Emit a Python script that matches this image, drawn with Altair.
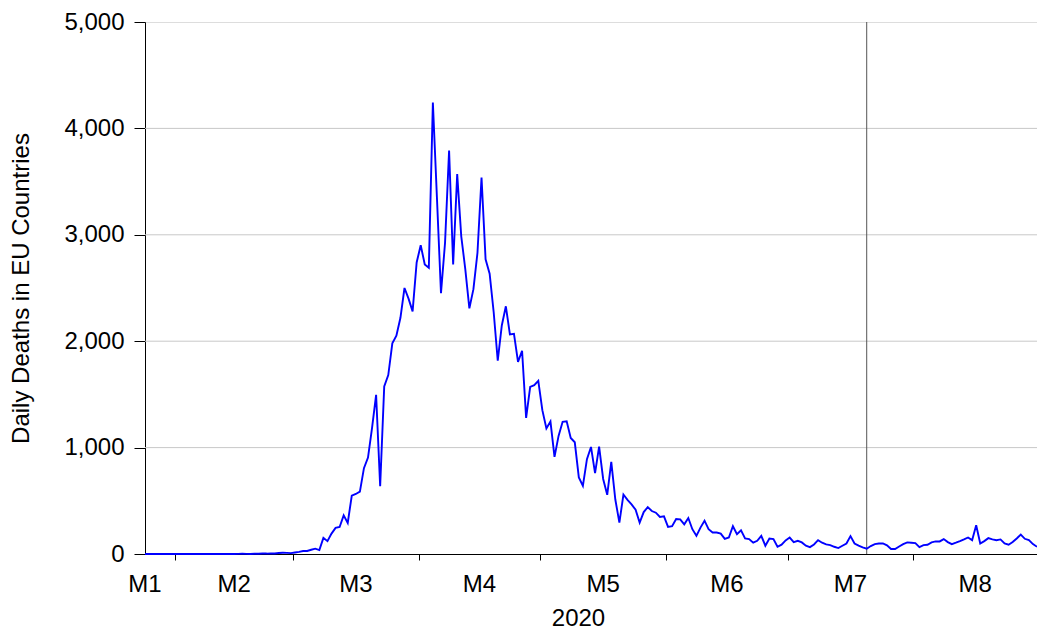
import altair as alt
import pandas as pd

# ---- data ----
start_date = "2020-01-24"
deaths = [
    0, 0, 0, 0, 1, 0, 0, 0, 0, 1,
    0, 0, 1, 0, 0, 0, 1, 0, 0, 1,
    0, 1, 0, 1, 2, 1, 0, 2, 3, 5,
    4, 6, 5, 9, 12, 11, 8, 14, 20, 28,
    28, 40, 50, 37, 152, 121, 192, 245, 254, 363,
    292, 549, 564, 586, 807, 906, 1185, 1496, 636, 1574,
    1682, 1980, 2052, 2220, 2500, 2400, 2280, 2740, 2902, 2722,
    2691, 4243, 3350, 2452, 2924, 3793, 2722, 3570, 2986, 2676,
    2309, 2489, 2831, 3539, 2769, 2635, 2272, 1818, 2148, 2328,
    2064, 2070, 1806, 1910, 1279, 1570, 1586, 1628, 1352, 1180,
    1245, 913, 1110, 1242, 1248, 1090, 1050, 720, 640, 891,
    1006, 760, 1009, 705, 556, 866, 512, 295, 559, 509,
    466, 416, 295, 394, 441, 404, 388, 348, 354, 255,
    261, 329, 326, 279, 338, 233, 171, 248, 313, 233,
    202, 202, 192, 143, 155, 261, 186, 223, 146, 140,
    106, 124, 171, 78, 146, 140, 68, 88, 128, 155,
    112, 124, 109, 78, 65, 90, 130, 106, 90, 84,
    68, 56, 78, 99, 168, 99, 78, 62, 50, 75,
    93, 99, 99, 81, 47, 47, 71, 93, 109, 106,
    102, 65, 84, 87, 109, 118, 118, 140, 112, 93,
    106, 121, 137, 155, 130, 270, 99, 121, 149, 137,
    130, 137, 99, 87, 112, 146, 183, 143, 130, 93, 68,
]
month_starts = ["2020-02-01", "2020-03-01", "2020-04-01", "2020-05-01",
                "2020-06-01", "2020-07-01", "2020-08-01", "2020-09-01"]
month_labels = ["M1", "M2", "M3", "M4", "M5", "M6", "M7", "M8"]
marker_date = "2020-07-20"
y_ticks = [0, 1000, 2000, 3000, 4000, 5000]
grid_values = [1000, 2000, 3000, 4000]
x_title = "2020"
y_title = "Daily Deaths in EU Countries"

# ---- derived tables ----
t0 = pd.Timestamp(start_date)
dates = pd.date_range(start_date, periods=len(deaths), freq="D")
last = len(deaths) - 1
df = pd.DataFrame({
    "date": dates.strftime("%Y-%m-%d"),
    "day": [(d - t0).days for d in dates],
    "deaths": deaths,
})
bounds = [min((pd.Timestamp(m) - t0).days - 0.5, last) for m in month_starts]
label_pos = [0] + [(bounds[k] + bounds[k + 1]) / 2 for k in range(len(bounds) - 1)]
labels_df = pd.DataFrame({"day": label_pos, "label": month_labels})
marker_df = pd.DataFrame({"day": [(pd.Timestamp(marker_date) - t0).days]})
grid_df = pd.DataFrame({"v": grid_values})

W, H = 892, 532
FONT = "Liberation Sans"
FS = 24

x_scale = alt.Scale(domain=[0, last], nice=False, zero=False)
y_scale = alt.Scale(domain=[0, 5000], nice=False)

x_axis = alt.Axis(values=bounds, labels=False, ticks=True, tickSize=6,
                  tickColor="black", domainColor="black", grid=False,
                  title=x_title, titleFontSize=FS, titleFont=FONT,
                  titleFontWeight="normal", titleColor="black",
                  titleX=433, titleY=64, titleBaseline="middle",
                  titleAlign="center")
y_axis = alt.Axis(values=y_ticks, format=",d", tickSize=11, labelPadding=10,
                  tickColor="black", domainColor="black", grid=False,
                  labelFontSize=FS, labelFont=FONT, labelColor="black",
                  title=y_title, titleFontSize=FS, titleFont=FONT,
                  titleFontWeight="normal", titleColor="black",
                  titleX=-124, titleY=H / 2, titleAngle=270,
                  titleBaseline="middle", titleAlign="center")

grid = alt.Chart(grid_df).mark_rule(color="#c8c8c8", strokeWidth=1).encode(
    y=alt.Y("v:Q", scale=y_scale, axis=y_axis)
)

marker = alt.Chart(marker_df).mark_rule(color="#555555", strokeWidth=1).encode(
    x=alt.X("day:Q", scale=x_scale, axis=x_axis)
)

line = alt.Chart(df).mark_line(color="#0000ff", strokeWidth=1.9).encode(
    x=alt.X("day:Q", scale=x_scale, axis=x_axis),
    y=alt.Y("deaths:Q", scale=y_scale, axis=y_axis),
)

month_text = alt.Chart(labels_df).mark_text(
    font=FONT, fontSize=FS, color="black", align="center", baseline="middle"
).encode(
    x=alt.X("day:Q", scale=x_scale, axis=x_axis),
    y=alt.value(H + 31),
    text="label:N",
)

chart = alt.layer(grid, marker, line, month_text).properties(
    width=W, height=H,
    autosize=alt.AutoSizeParams(type="none"),
    padding={"left": 137, "top": 14, "right": 0, "bottom": 76},
).configure_view(stroke="black", strokeWidth=1).configure(font=FONT)

chart.save("out.html", embed_options={"renderer": "svg", "actions": False})
